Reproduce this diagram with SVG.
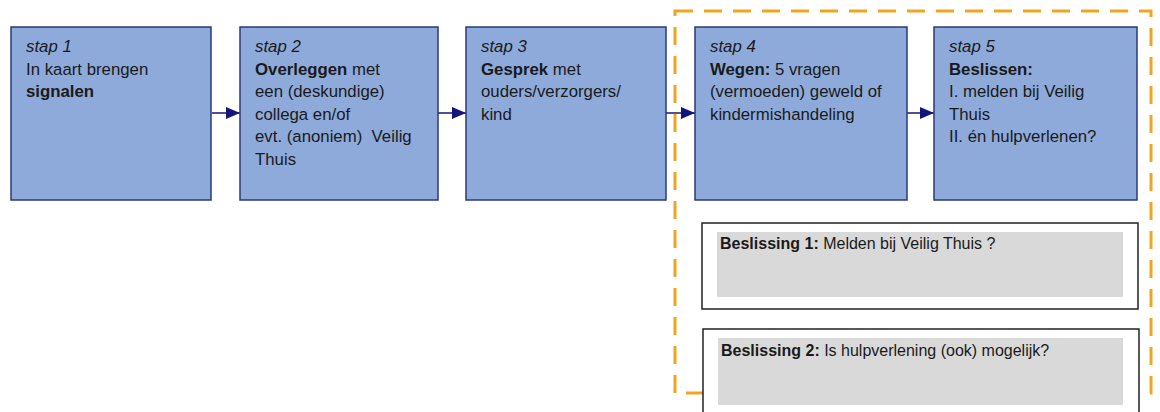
<svg xmlns="http://www.w3.org/2000/svg" width="1160" height="412" viewBox="0 0 1160 412">
<defs>
<style>
.step{fill:#8EAADB;stroke:#2B3A78;stroke-width:1.5}
.t{font-family:"Liberation Sans",Arial,sans-serif;font-size:16.8px;fill:#1a1a1a}
.i{font-style:italic}
.b{font-weight:bold}
.conn{stroke:#14147A;stroke-width:1.5;fill:none}
.frame{fill:none;stroke:#F2A31F;stroke-width:3;stroke-dasharray:18 11}
.dec{fill:#ffffff;stroke:#222222;stroke-width:1.5}
.gray{fill:#D9D9D9}
.d{font-family:"Liberation Sans",Arial,sans-serif;font-size:16px;fill:#1a1a1a}
</style>
<marker id="ah" viewBox="0 0 14 12" refX="14" refY="6" markerWidth="14" markerHeight="12" markerUnits="userSpaceOnUse" orient="auto">
<path d="M0,0 L14,6 L0,12 z" fill="#14147A"/>
</marker>
</defs>
<rect width="1160" height="412" fill="#ffffff"/>
<rect class="frame" x="675" y="11" width="476" height="382"/>
<g id="connectors">
<line class="conn" x1="212" y1="113" x2="240" y2="113" marker-end="url(#ah)"/>
<line class="conn" x1="438" y1="113" x2="466" y2="113" marker-end="url(#ah)"/>
<line class="conn" x1="666" y1="113" x2="695" y2="113" marker-end="url(#ah)"/>
<line class="conn" x1="907" y1="113" x2="934" y2="113" marker-end="url(#ah)"/>
</g>
<g id="stap1">
<rect class="step" x="11" y="27" width="200" height="173"/>
<text class="t" x="26" y="52"><tspan class="i">stap 1</tspan><tspan x="26" dy="22.5">In kaart brengen</tspan><tspan x="26" dy="22.5" class="b">signalen</tspan></text>
</g>
<g id="stap2">
<rect class="step" x="240" y="27" width="198" height="173"/>
<text class="t" x="255" y="52"><tspan class="i">stap 2</tspan><tspan x="255" dy="22.5"><tspan class="b">Overleggen</tspan> met</tspan><tspan x="255" dy="22.5">een (deskundige)</tspan><tspan x="255" dy="22.5">collega en/of</tspan><tspan x="255" dy="22.5">evt. (anoniem)&#160; Veilig</tspan><tspan x="255" dy="22.5">Thuis</tspan></text>
</g>
<g id="stap3">
<rect class="step" x="466" y="27" width="200" height="173"/>
<text class="t" x="481" y="52"><tspan class="i">stap 3</tspan><tspan x="481" dy="22.5"><tspan class="b">Gesprek</tspan> met</tspan><tspan x="481" dy="22.5">ouders/verzorgers/</tspan><tspan x="481" dy="22.5">kind</tspan></text>
</g>
<g id="stap4">
<rect class="step" x="695" y="27" width="212" height="173"/>
<text class="t" x="710" y="52"><tspan class="i">stap 4</tspan><tspan x="710" dy="22.5"><tspan class="b">Wegen:</tspan> 5 vragen</tspan><tspan x="710" dy="22.5">(vermoeden) geweld of</tspan><tspan x="710" dy="22.5">kindermishandeling</tspan></text>
</g>
<g id="stap5">
<rect class="step" x="934" y="27" width="203" height="173"/>
<text class="t" x="949" y="52"><tspan class="i">stap 5</tspan><tspan x="949" dy="22.5" class="b">Beslissen:</tspan><tspan x="949" dy="22.5">I. melden bij Veilig</tspan><tspan x="949" dy="22.5">Thuis</tspan><tspan x="949" dy="22.5">II. én hulpverlenen?</tspan></text>
</g>
<g id="beslissing1">
<rect class="dec" x="702" y="223" width="436" height="86"/>
<rect class="gray" x="717" y="232" width="406" height="65"/>
<text class="d" x="720" y="249"><tspan class="b">Beslissing 1:</tspan> Melden bij Veilig Thuis ?</text>
</g>
<g id="beslissing2">
<rect class="dec" x="703" y="329" width="436" height="100"/>
<rect class="gray" x="718" y="338" width="405" height="67"/>
<text class="d" x="721" y="356"><tspan class="b">Beslissing 2:</tspan> Is hulpverlening (ook) mogelijk?</text>
</g>
</svg>
